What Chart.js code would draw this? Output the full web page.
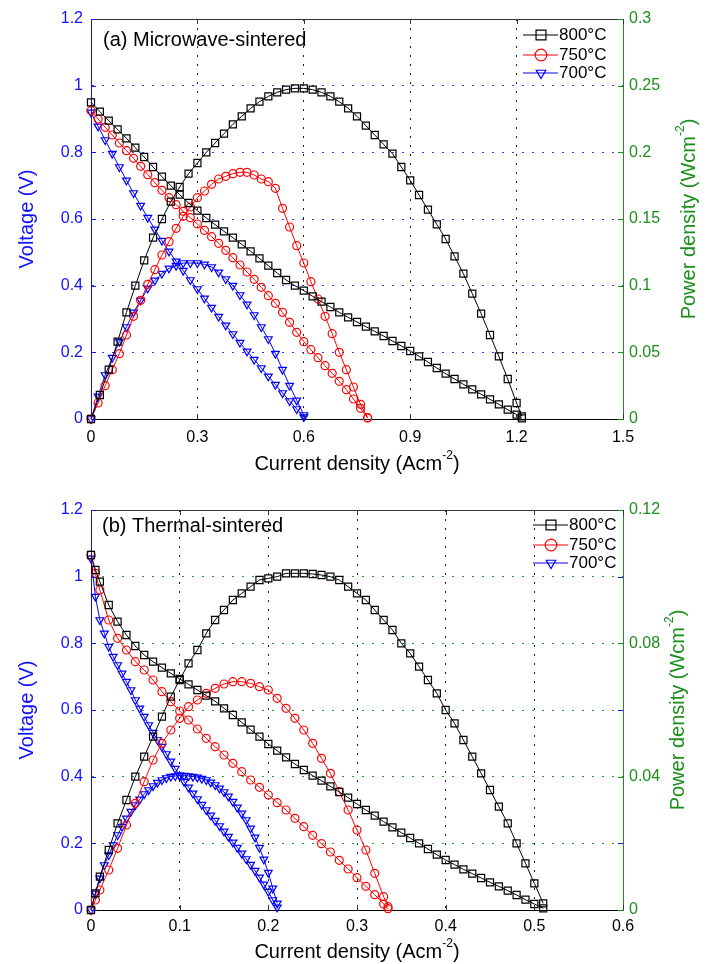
<!DOCTYPE html>
<html>
<head>
<meta charset="utf-8">
<script src="https://cdn.jsdelivr.net/npm/chart.js@4.4.1/dist/chart.umd.min.js"></script>
<style>
  html, body { margin: 0; padding: 0; background: #fff; }
  canvas { display: block; }
</style>
</head>
<body>
<canvas id="chartA" width="713" height="482"></canvas>
<canvas id="chartB" width="713" height="482"></canvas>
<script>
const FONT = "'Liberation Sans', Arial, Helvetica, sans-serif";
Chart.defaults.font.family = FONT;

const legendLabels = ["800°C", "750°C", "700°C"];
const seriesColors = ["#000000", "#ff0000", "#0000ff"];
const seriesMarkers = ["rect", "circle", "triangle"];
const BLUE = "#1010ff";
const GREEN = "#1a8f1a";

// ---- (a) Microwave-sintered ----
const aXTicks = [0, 0.3, 0.6, 0.9, 1.2, 1.5];
const aVTicks = [0, 0.2, 0.4, 0.6, 0.8, 1, 1.2];
const aPTicks = [0, 0.05, 0.1, 0.15, 0.2, 0.25, 0.3];

const aI800 = [0, 0.025, 0.05, 0.075, 0.1, 0.125, 0.15, 0.175, 0.2, 0.225, 0.25, 0.275, 0.3, 0.325, 0.35, 0.375, 0.4, 0.425, 0.45, 0.475, 0.5, 0.525, 0.55, 0.575, 0.6, 0.625, 0.65, 0.675, 0.7, 0.725, 0.75, 0.775, 0.8, 0.825, 0.85, 0.875, 0.9, 0.925, 0.95, 0.975, 1.0, 1.025, 1.05, 1.075, 1.1, 1.125, 1.15, 1.175, 1.2, 1.215];
const aV800 = [0.950, 0.922, 0.895, 0.869, 0.842, 0.814, 0.786, 0.756, 0.727, 0.700, 0.673, 0.648, 0.625, 0.603, 0.583, 0.563, 0.544, 0.524, 0.503, 0.482, 0.460, 0.438, 0.417, 0.400, 0.385, 0.368, 0.352, 0.336, 0.320, 0.305, 0.291, 0.277, 0.263, 0.249, 0.234, 0.219, 0.204, 0.188, 0.171, 0.153, 0.136, 0.120, 0.104, 0.089, 0.074, 0.059, 0.044, 0.028, 0.013, 0.002];
const aP800 = [0, 0.018, 0.037, 0.058, 0.080, 0.100, 0.119, 0.136, 0.150, 0.163, 0.174, 0.184, 0.192, 0.200, 0.207, 0.214, 0.221, 0.227, 0.233, 0.238, 0.242, 0.245, 0.247, 0.248, 0.248, 0.247, 0.245, 0.242, 0.238, 0.233, 0.227, 0.220, 0.213, 0.206, 0.199, 0.189, 0.179, 0.168, 0.157, 0.146, 0.135, 0.122, 0.109, 0.094, 0.079, 0.063, 0.047, 0.030, 0.012, 0.002];

const aI750 = [0, 0.02, 0.04, 0.06, 0.08, 0.1, 0.12, 0.14, 0.16, 0.18, 0.2, 0.22, 0.24, 0.26, 0.28, 0.3, 0.32, 0.34, 0.36, 0.38, 0.4, 0.42, 0.44, 0.46, 0.48, 0.5, 0.52, 0.54, 0.56, 0.58, 0.6, 0.62, 0.64, 0.66, 0.68, 0.7, 0.72, 0.74, 0.76, 0.78];
const aV750 = [0.925, 0.900, 0.875, 0.852, 0.828, 0.805, 0.782, 0.758, 0.733, 0.709, 0.686, 0.664, 0.643, 0.623, 0.604, 0.585, 0.566, 0.547, 0.527, 0.506, 0.484, 0.462, 0.441, 0.419, 0.395, 0.370, 0.347, 0.320, 0.290, 0.260, 0.232, 0.208, 0.184, 0.160, 0.137, 0.113, 0.088, 0.060, 0.032, 0.003];
const aP750 = [0, 0.012, 0.025, 0.037, 0.049, 0.063, 0.077, 0.089, 0.101, 0.112, 0.123, 0.133, 0.143, 0.152, 0.159, 0.166, 0.171, 0.176, 0.180, 0.182, 0.184, 0.185, 0.185, 0.183, 0.180, 0.178, 0.173, 0.158, 0.144, 0.130, 0.117, 0.103, 0.090, 0.077, 0.064, 0.050, 0.037, 0.024, 0.011, 0.001];

const aI700 = [0, 0.02, 0.04, 0.06, 0.08, 0.1, 0.12, 0.14, 0.16, 0.18, 0.2, 0.22, 0.24, 0.26, 0.28, 0.3, 0.32, 0.34, 0.36, 0.38, 0.4, 0.42, 0.44, 0.46, 0.48, 0.5, 0.52, 0.54, 0.56, 0.58, 0.6];
const aV700 = [0.920, 0.878, 0.837, 0.796, 0.756, 0.716, 0.678, 0.640, 0.604, 0.569, 0.535, 0.503, 0.473, 0.445, 0.417, 0.390, 0.362, 0.334, 0.307, 0.281, 0.255, 0.229, 0.203, 0.178, 0.153, 0.128, 0.103, 0.078, 0.054, 0.030, 0.006];
const aP700 = [0, 0.017, 0.033, 0.046, 0.058, 0.069, 0.080, 0.089, 0.098, 0.104, 0.109, 0.113, 0.115, 0.117, 0.117, 0.117, 0.116, 0.114, 0.110, 0.105, 0.100, 0.093, 0.086, 0.078, 0.069, 0.060, 0.049, 0.037, 0.025, 0.014, 0.003];

// ---- (b) Thermal-sintered ----
const bXTicks = [0, 0.1, 0.2, 0.3, 0.4, 0.5, 0.6];
const bVTicks = [0, 0.2, 0.4, 0.6, 0.8, 1, 1.2];
const bPTicks = [0, 0.04, 0.08, 0.12];

const bI800 = [0, 0.005, 0.01, 0.02, 0.03, 0.04, 0.05, 0.06, 0.07, 0.08, 0.09, 0.1, 0.11, 0.12, 0.13, 0.14, 0.15, 0.16, 0.17, 0.18, 0.19, 0.2, 0.21, 0.22, 0.23, 0.24, 0.25, 0.26, 0.27, 0.28, 0.29, 0.3, 0.31, 0.32, 0.33, 0.34, 0.35, 0.36, 0.37, 0.38, 0.39, 0.4, 0.41, 0.42, 0.43, 0.44, 0.45, 0.46, 0.47, 0.48, 0.49, 0.5, 0.51];
const bV800 = [1.065, 1.020, 0.985, 0.915, 0.865, 0.825, 0.792, 0.765, 0.745, 0.727, 0.710, 0.693, 0.677, 0.660, 0.643, 0.626, 0.605, 0.585, 0.563, 0.541, 0.520, 0.498, 0.478, 0.458, 0.438, 0.420, 0.403, 0.388, 0.371, 0.354, 0.337, 0.318, 0.300, 0.283, 0.265, 0.248, 0.232, 0.216, 0.200, 0.183, 0.166, 0.150, 0.136, 0.122, 0.109, 0.096, 0.083, 0.071, 0.058, 0.045, 0.031, 0.018, 0.005];
const bP800 = [0, 0.005, 0.010, 0.018, 0.026, 0.033, 0.040, 0.046, 0.052, 0.058, 0.064, 0.069, 0.074, 0.078, 0.083, 0.087, 0.090, 0.093, 0.095, 0.097, 0.099, 0.0995, 0.100, 0.101, 0.101, 0.101, 0.1008, 0.1005, 0.100, 0.099, 0.097, 0.095, 0.093, 0.090, 0.087, 0.084, 0.080, 0.077, 0.073, 0.069, 0.065, 0.060, 0.056, 0.051, 0.046, 0.041, 0.036, 0.031, 0.026, 0.020, 0.014, 0.008, 0.002];

const bI750 = [0, 0.005, 0.01, 0.02, 0.03, 0.04, 0.05, 0.06, 0.07, 0.08, 0.09, 0.1, 0.11, 0.12, 0.13, 0.14, 0.15, 0.16, 0.17, 0.18, 0.19, 0.2, 0.21, 0.22, 0.23, 0.24, 0.25, 0.26, 0.27, 0.28, 0.29, 0.3, 0.31, 0.32, 0.33, 0.335];
const bV750 = [1.065, 1.010, 0.960, 0.870, 0.815, 0.780, 0.745, 0.720, 0.690, 0.655, 0.625, 0.597, 0.570, 0.543, 0.515, 0.490, 0.465, 0.440, 0.415, 0.390, 0.368, 0.345, 0.322, 0.300, 0.275, 0.250, 0.224, 0.199, 0.174, 0.149, 0.123, 0.097, 0.071, 0.046, 0.018, 0.004];
const bP750 = [0, 0.003, 0.006, 0.012, 0.0185, 0.0255, 0.032, 0.0385, 0.045, 0.050, 0.054, 0.0575, 0.061, 0.063, 0.065, 0.0665, 0.0678, 0.0685, 0.0685, 0.068, 0.067, 0.066, 0.0635, 0.0605, 0.0575, 0.054, 0.050, 0.0455, 0.041, 0.0355, 0.030, 0.024, 0.018, 0.011, 0.004, 0.001];

const bI700 = [0, 0.005, 0.01, 0.015, 0.02, 0.025, 0.03, 0.035, 0.04, 0.045, 0.05, 0.055, 0.06, 0.065, 0.07, 0.075, 0.08, 0.085, 0.09, 0.095, 0.1, 0.105, 0.11, 0.115, 0.12, 0.125, 0.13, 0.135, 0.14, 0.145, 0.15, 0.155, 0.16, 0.165, 0.17, 0.175, 0.18, 0.185, 0.19, 0.195, 0.2, 0.205, 0.21];
const bV700 = [1.055, 0.940, 0.870, 0.830, 0.790, 0.760, 0.735, 0.710, 0.685, 0.660, 0.630, 0.605, 0.580, 0.555, 0.532, 0.510, 0.490, 0.468, 0.446, 0.424, 0.404, 0.385, 0.368, 0.350, 0.333, 0.316, 0.300, 0.284, 0.268, 0.252, 0.236, 0.220, 0.203, 0.187, 0.170, 0.153, 0.136, 0.118, 0.098, 0.077, 0.055, 0.030, 0.008];
const bP700 = [0, 0.005, 0.0095, 0.0135, 0.0165, 0.0195, 0.0225, 0.025, 0.0275, 0.0295, 0.0315, 0.0332, 0.0348, 0.036, 0.0372, 0.0382, 0.039, 0.0396, 0.040, 0.0402, 0.0403, 0.0403, 0.0402, 0.040, 0.0398, 0.0394, 0.039, 0.0383, 0.0375, 0.0365, 0.0354, 0.0341, 0.0325, 0.0308, 0.029, 0.027, 0.0245, 0.0218, 0.0187, 0.0152, 0.0112, 0.0065, 0.002];

const fmt = v => String(Math.round(v * 1000) / 1000);

function series(xs, ys, i, axis) {
  return {
    data: xs.map((x, k) => ({ x: x, y: ys[k] })),
    yAxisID: axis,
    showLine: true,
    borderColor: seriesColors[i],
    borderWidth: 1,
    backgroundColor: "rgba(0,0,0,0)",
    pointStyle: seriesMarkers[i],
    pointRotation: i === 2 ? 180 : 0,
    pointRadius: [5, 4, 4.5][i],
    pointBorderWidth: 1.2,
    pointBorderColor: seriesColors[i],
    pointBackgroundColor: "rgba(0,0,0,0)",
    clip: 10
  };
}

function drawRich(ctx, parts, x, y, size, color, align) {
  ctx.fillStyle = color;
  ctx.textBaseline = "middle";
  ctx.textAlign = "left";
  let total = 0;
  parts.forEach(p => {
    ctx.font = (p[1] ? size * 0.6 : size) + "px " + FONT;
    total += ctx.measureText(p[0]).width;
  });
  let cx = align === "center" ? x - total / 2 : x;
  parts.forEach(p => {
    ctx.font = (p[1] ? size * 0.6 : size) + "px " + FONT;
    ctx.fillText(p[0], cx, p[1] ? y - size * 0.4 : y);
    cx += ctx.measureText(p[0]).width;
  });
}

function drawMarker(ctx, style, x, y, r) {
  ctx.beginPath();
  if (style === "rect") {
    const s = r * Math.SQRT1_2;
    ctx.rect(x - s, y - s, 2 * s, 2 * s);
  } else if (style === "circle") {
    ctx.arc(x, y, r, 0, Math.PI * 2);
  } else {
    ctx.moveTo(x - r * 0.866, y - r * 0.5);
    ctx.lineTo(x + r * 0.866, y - r * 0.5);
    ctx.lineTo(x, y + r);
    ctx.closePath();
  }
  ctx.stroke();
}

const framePlugin = {
  id: "frame",
  afterDraw(chart, args, o) {
    const { ctx, chartArea: a, scales } = chart;
    const line = (x1, y1, x2, y2) => { ctx.beginPath(); ctx.moveTo(x1, y1); ctx.lineTo(x2, y2); ctx.stroke(); };
    ctx.save();
    ctx.lineWidth = 1;
    // top border of the box
    ctx.strokeStyle = "#333";
    line(a.left, Math.round(a.top) + 0.5, a.right, Math.round(a.top) + 0.5);
    // inward tick marks
    const tl = 5;
    scales.x.ticks.forEach(t => {
      const px = Math.round(scales.x.getPixelForValue(t.value)) + 0.5;
      line(px, a.bottom, px, a.bottom - tl);
      line(px, a.top, px, a.top + tl);
    });
    ctx.strokeStyle = BLUE;
    scales.y.ticks.forEach(t => {
      const py = Math.round(scales.y.getPixelForValue(t.value)) + 0.5;
      line(a.left, py, a.left + tl, py);
      line(a.right, py, a.right - tl, py);
    });
    ctx.strokeStyle = GREEN;
    scales.y2.ticks.forEach(t => {
      const py = Math.round(scales.y2.getPixelForValue(t.value)) + 0.5;
      line(a.right, py, a.right - tl, py);
    });
    // panel label
    drawRich(ctx, [[o.panel, false]], o.panelX, o.panelY, 20, "#000", "left");
    // legend
    legendLabels.forEach((lab, i) => {
      const y = o.legY[i];
      ctx.strokeStyle = seriesColors[i];
      ctx.lineWidth = 1;
      line(o.legX, y, o.legX + 35, y);
      ctx.lineWidth = 1.2;
      drawMarker(ctx, seriesMarkers[i], o.legX + 18, y, [7, 5.8, 5.5][i]);
      drawRich(ctx, [[lab, false]], o.legX + 36, y, 17, "#000", "left");
    });
    // axis titles
    const midY = (a.top + a.bottom) / 2;
    drawRich(ctx, [["Current density (Acm", false], ["-2", true], [")", false]], (a.left + a.right) / 2, o.xTitleY, 20, "#000", "center");
    ctx.save();
    ctx.translate(o.vTitleX, midY);
    ctx.rotate(-Math.PI / 2);
    drawRich(ctx, [["Voltage (V)", false]], 0, 0, 20, BLUE, "center");
    ctx.restore();
    ctx.save();
    ctx.translate(o.pTitleX, midY);
    ctx.rotate(-Math.PI / 2);
    drawRich(ctx, [["Power density (Wcm", false], ["-2", true], [")", false]], 0, 0, 20, GREEN, "center");
    ctx.restore();
    ctx.restore();
  }
};

function hideEnds(max, col) {
  return c => (c.tick && (c.tick.value <= 1e-9 || c.tick.value >= max - 1e-9)) ? "rgba(0,0,0,0)" : col;
}

function makeChart(id, o) {
  return new Chart(document.getElementById(id), {
    type: "scatter",
    data: {
      datasets: [
        series(o.I[0], o.V[0], 0, "y"),
        series(o.I[0], o.P[0], 0, "y2"),
        series(o.I[1], o.V[1], 1, "y"),
        series(o.I[1], o.P[1], 1, "y2"),
        series(o.I[2], o.V[2], 2, "y"),
        series(o.I[2], o.P[2], 2, "y2")
      ]
    },
    options: {
      responsive: false,
      animation: false,
      devicePixelRatio: 1,
      events: [],
      layout: { padding: { top: o.padTop, left: 0, right: 0, bottom: 0 } },
      plugins: {
        legend: { display: false },
        tooltip: { enabled: false },
        frame: o.frame
      },
      scales: {
        x: {
          type: "linear", position: "bottom", min: 0, max: o.xMax,
          afterBuildTicks: s => { s.ticks = o.xTicks.map(v => ({ value: v })); },
          afterFit: s => { s.height = o.xAxisH; },
          ticks: { color: "#000", font: { size: 16 }, padding: o.xPad, callback: fmt, maxRotation: 0, autoSkip: false },
          grid: { color: hideEnds(o.xMax, "#222"), lineWidth: 1, drawTicks: false },
          border: { color: "#000", width: 1, dash: [2, 7] }
        },
        y: {
          type: "linear", position: "left", min: 0, max: 1.2,
          afterBuildTicks: s => { s.ticks = o.vTicks.map(v => ({ value: v })); },
          afterFit: s => { s.width = 91; },
          ticks: { color: BLUE, font: { size: 16 }, padding: 8, callback: fmt, autoSkip: false },
          grid: { color: hideEnds(1.2, o.hGrid), lineWidth: 1, drawTicks: false },
          border: { color: BLUE, width: 1, dash: [2, 8] }
        },
        y2: {
          type: "linear", position: "right", min: 0, max: o.pMax,
          afterBuildTicks: s => { s.ticks = o.pTicks.map(v => ({ value: v })); },
          afterFit: s => { s.width = 90; },
          ticks: { color: GREEN, font: { size: 16 }, padding: 6, callback: fmt, autoSkip: false },
          grid: { drawOnChartArea: false, drawTicks: false },
          border: { color: GREEN, width: 1 }
        }
      }
    },
    plugins: [framePlugin]
  });
}

makeChart("chartA", {
  I: [aI800, aI750, aI700], V: [aV800, aV750, aV700], P: [aP800, aP750, aP700],
  xMax: 1.5, pMax: 0.3, xTicks: aXTicks, vTicks: aVTicks, pTicks: aPTicks,
  padTop: 19, xAxisH: 63, xPad: 9, hGrid: "#3535ff",
  frame: { panel: "(a) Microwave-sintered", panelX: 103, panelY: 40, legX: 523, legY: [35, 55, 73], xTitleY: 464, vTitleX: 27, pTitleX: 689 }
});

makeChart("chartB", {
  I: [bI800, bI750, bI700], V: [bV800, bV750, bV700], P: [bP800, bP750, bP700],
  xMax: 0.6, pMax: 0.12, xTicks: bXTicks, vTicks: bVTicks, pTicks: bPTicks,
  padTop: 28, xAxisH: 54, xPad: 7, hGrid: "#2f9a2f",
  frame: { panel: "(b) Thermal-sintered", panelX: 102, panelY: 44, legX: 533, legY: [43, 63, 81], xTitleY: 470, vTitleX: 27, pTitleX: 678 }
});
</script>
</body>
</html>
